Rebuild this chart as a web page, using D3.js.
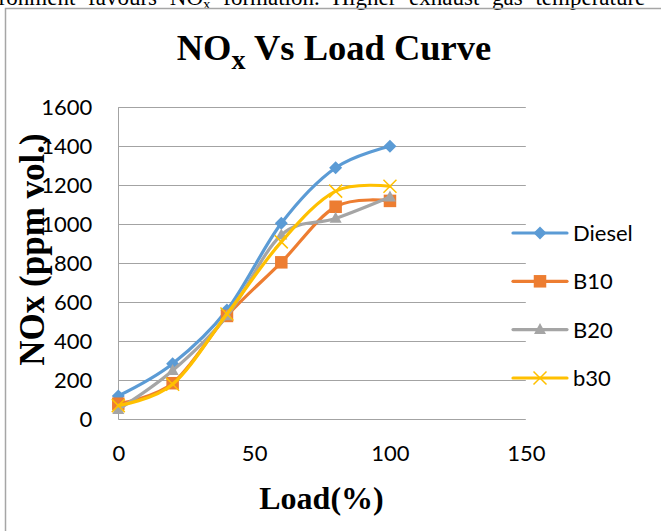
<!DOCTYPE html>
<html>
<head>
<meta charset="utf-8">
<script src="https://cdn.jsdelivr.net/npm/d3@7"></script>
<style>
  html, body { margin: 0; padding: 0; background: #fff; }
  svg { display: block; }
</style>
</head>
<body>
<svg id="chart" width="661" height="531"></svg>
<script>
// Engine load (%) and NOx emissions (ppm vol.) for each fuel blend
const loads = [0, 20, 40, 60, 80, 100];
const diesel = [120, 285, 560, 1005, 1290, 1400];
const b10 = [80, 185, 530, 805, 1090, 1120];
const b20 = [50, 250, 530, 945, 1030, 1140];
const b30 = [70, 180, 540, 910, 1170, 1195];
const seriesNames = ["Diesel", "B10", "B20", "b30"];
const xTicks = [0, 50, 100, 150];
const yTicks = [0, 200, 400, 600, 800, 1000, 1200, 1400, 1600];

const series = [
  { name: seriesNames[0], values: diesel, color: "#5B9BD5", marker: "diamond" },
  { name: seriesNames[1], values: b10, color: "#ED7D31", marker: "square" },
  { name: seriesNames[2], values: b20, color: "#A5A5A5", marker: "triangle" },
  { name: seriesNames[3], values: b30, color: "#FFC000", marker: "cross" }
];

const svg = d3.select("#chart");
const tickFont = "Lato, 'Open Sans', sans-serif";
const serif = "'Liberation Serif', 'Times New Roman', serif";

// Running text of the page above the chart, cut by the top edge
const para = svg.append("text")
  .attr("y", 5)
  .attr("font-family", serif)
  .attr("font-size", 23)
  .attr("word-spacing", 7)
  .attr("fill", "#000");
para.append("tspan").text("environment favours NO");
para.append("tspan").attr("font-size", 15).attr("dy", 4).text("x");
para.append("tspan").attr("dy", -4).text(" formation. Higher exhaust gas temperature");
{
  const first = para.node().firstChild;
  const w = first.getComputedTextLength();
  para.attr("x", 203 - w);
}

// Chart area frame
svg.append("rect")
  .attr("x", 5.5).attr("y", 8.5)
  .attr("width", 700).attr("height", 600)
  .attr("fill", "none")
  .attr("stroke", "#a6a6a6")
  .attr("stroke-width", 1.5);

const x = d3.scaleLinear().domain([0, 150]).range([118.3, 525.8]);
const y = d3.scaleLinear().domain([0, 1600]).range([419.3, 107.3]);

// Horizontal gridlines
svg.append("g")
  .selectAll("line")
  .data(yTicks)
  .join("line")
  .attr("x1", x(0)).attr("x2", x(150))
  .attr("y1", d => Math.round(y(d)) + 0.5)
  .attr("y2", d => Math.round(y(d)) + 0.5)
  .attr("stroke", "#a3a3a3")
  .attr("stroke-width", 1);

// Vertical axis line
svg.append("line")
  .attr("x1", Math.round(x(0)) + 0.5).attr("x2", Math.round(x(0)) + 0.5)
  .attr("y1", y(1600)).attr("y2", y(0))
  .attr("stroke", "#a3a3a3");

// Y axis tick labels
const yAxis = d3.axisLeft(y).tickValues(yTicks).tickFormat(d3.format("d")).tickSize(0).tickPadding(26);
const gy = svg.append("g").attr("transform", `translate(${x(0)},0)`).call(yAxis);
gy.select(".domain").remove();
gy.selectAll("text")
  .attr("font-family", tickFont)
  .attr("font-size", 22)
  .attr("fill", "#000");

// X axis tick labels
const xAxis = d3.axisBottom(x).tickValues(xTicks).tickFormat(d3.format("d")).tickSize(0).tickPadding(26);
const gx = svg.append("g").attr("transform", `translate(0,${y(0)})`).call(xAxis);
gx.select(".domain").remove();
gx.selectAll("text")
  .attr("font-family", tickFont)
  .attr("font-size", 22)
  .attr("fill", "#000");

// Title
const title = svg.append("text")
  .attr("x", 334).attr("y", 59.5)
  .attr("text-anchor", "middle")
  .attr("font-family", serif)
  .attr("font-weight", "bold")
  .attr("font-size", 36.5)
  .attr("fill", "#000");
title.append("tspan").text("NO");
title.append("tspan").attr("font-size", 28).attr("dy", 9).text("x");
title.append("tspan").attr("dy", -9).text(" Vs Load Curve");

// Axis titles
svg.append("text")
  .attr("transform", "translate(44,249.5) rotate(-90)")
  .attr("text-anchor", "middle")
  .attr("font-family", serif)
  .attr("font-weight", "bold")
  .attr("font-size", 35)
  .attr("fill", "#000")
  .text("NOx (ppm vol.)");

svg.append("text")
  .attr("x", 321.5).attr("y", 509.3)
  .attr("text-anchor", "middle")
  .attr("font-family", serif)
  .attr("font-weight", "bold")
  .attr("font-size", 32)
  .attr("fill", "#000")
  .text("Load(%)");

// Marker drawing
function drawMarker(g, type, color, cx, cy) {
  if (type === "diamond") {
    const r = 6.5;
    g.append("path")
      .attr("d", `M${cx},${cy - r}L${cx + r},${cy}L${cx},${cy + r}L${cx - r},${cy}Z`)
      .attr("fill", color);
  } else if (type === "square") {
    const s = 12.5;
    g.append("rect")
      .attr("x", cx - s / 2).attr("y", cy - s / 2)
      .attr("width", s).attr("height", s)
      .attr("fill", color);
  } else if (type === "triangle") {
    const h = 11, w = 12;
    g.append("path")
      .attr("d", `M${cx},${cy - h * 0.6}L${cx + w / 2},${cy + h * 0.4}L${cx - w / 2},${cy + h * 0.4}Z`)
      .attr("fill", color);
  } else if (type === "cross") {
    const r = 6.5;
    g.append("path")
      .attr("d", `M${cx - r},${cy - r}L${cx + r},${cy + r}M${cx - r},${cy + r}L${cx + r},${cy - r}`)
      .attr("stroke", color)
      .attr("stroke-width", 1.5)
      .attr("fill", "none");
  }
}

const line = d3.line()
  .x(d => x(d[0]))
  .y(d => y(d[1]))
  .curve(d3.curveCardinal.tension(0));

// Series lines with markers
series.forEach(s => {
  const pts = loads.map((l, i) => [l, s.values[i]]);
  const g = svg.append("g");
  g.append("path")
    .datum(pts)
    .attr("d", line)
    .attr("fill", "none")
    .attr("stroke", s.color)
    .attr("stroke-width", 3.2)
    .attr("stroke-linejoin", "round")
    .attr("stroke-linecap", "round");
  pts.forEach(p => drawMarker(g, s.marker, s.color, x(p[0]), y(p[1])));
});

// Legend
const legendY = [233, 281.3, 329.6, 378];
series.forEach((s, i) => {
  const g = svg.append("g");
  const ly = legendY[i];
  g.append("line")
    .attr("x1", 513).attr("x2", 567)
    .attr("y1", ly).attr("y2", ly)
    .attr("stroke", s.color)
    .attr("stroke-width", 3.2)
    .attr("stroke-linecap", "round");
  drawMarker(g, s.marker, s.color, 540, ly);
  g.append("text")
    .attr("x", 573).attr("y", ly)
    .attr("dy", "0.36em")
    .attr("font-family", tickFont)
    .attr("font-size", 22)
    .attr("fill", "#000")
    .text(s.name);
});
</script>
</body>
</html>
